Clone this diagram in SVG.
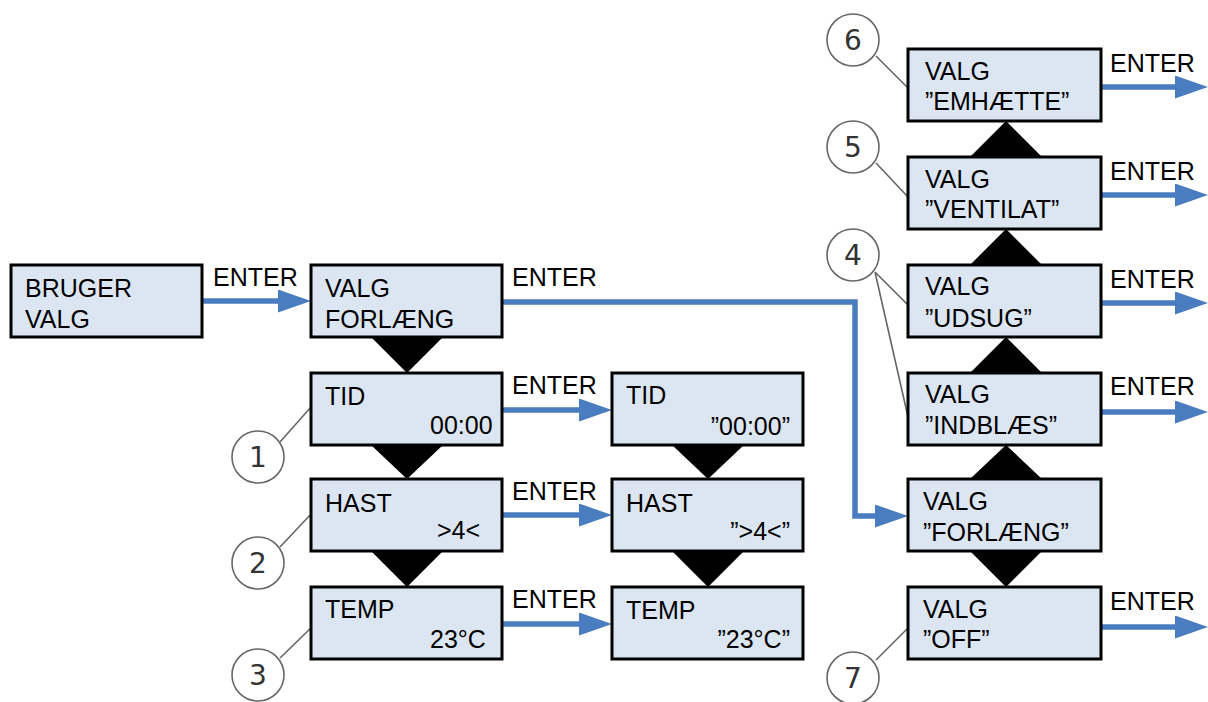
<svg xmlns="http://www.w3.org/2000/svg" width="1208" height="702" viewBox="0 0 1208 702">
<style>
.box{fill:#dce6f2;stroke:#000;stroke-width:3}
.t{font-family:"Liberation Sans",Arial,sans-serif;font-size:25px;fill:#000}
.e{text-anchor:end}
.tri{fill:#000}
.conn{fill:none;stroke:#4a7cc0;stroke-width:5.5}
.lead{fill:none;stroke:#666;stroke-width:1.6}
.circ{fill:#fff;stroke:#666;stroke-width:1.6}
.num{font-family:"DejaVu Sans","Liberation Sans",sans-serif;font-size:28px;fill:#333;text-anchor:middle}
</style>
<defs>
<marker id="ah" markerUnits="userSpaceOnUse" viewBox="0 0 33 23" markerWidth="33" markerHeight="23" refX="1" refY="11.5" orient="auto">
<path d="M0,0 L33,11.5 L0,23 z" fill="#4a7cc0"/>
</marker>
</defs>
<rect width="1208" height="702" fill="#fff"/>

<g id="triangles">
<polygon class="tri" points="371,337 443,337 407,373"/>
<polygon class="tri" points="371,445 443,445 407,479"/>
<polygon class="tri" points="371,551 443,551 407,587"/>
<polygon class="tri" points="672,445 744,445 708,479"/>
<polygon class="tri" points="672,551 744,551 708,587"/>
<polygon class="tri" points="970,157 1042,157 1006,121"/>
<polygon class="tri" points="970,265 1042,265 1006,229"/>
<polygon class="tri" points="970,373 1042,373 1006,337"/>
<polygon class="tri" points="970,479 1042,479 1006,445"/>
<polygon class="tri" points="970,551 1042,551 1006,587"/>
</g>

<g id="connectors">
<path class="conn" d="M202,301 H279" marker-end="url(#ah)"/>
<path class="conn" d="M502,302 H855 V516 H876" marker-end="url(#ah)"/>
<path class="conn" d="M502,410 H580" marker-end="url(#ah)"/>
<path class="conn" d="M502,515 H580" marker-end="url(#ah)"/>
<path class="conn" d="M502,624 H580" marker-end="url(#ah)"/>
<path class="conn" d="M1101,87 H1176" marker-end="url(#ah)"/>
<path class="conn" d="M1101,195 H1176" marker-end="url(#ah)"/>
<path class="conn" d="M1101,303 H1176" marker-end="url(#ah)"/>
<path class="conn" d="M1101,412 H1176" marker-end="url(#ah)"/>
<path class="conn" d="M1101,627 H1176" marker-end="url(#ah)"/>
<text class="t" x="213" y="286">ENTER</text>
<text class="t" x="512" y="286">ENTER</text>
<text class="t" x="512" y="394">ENTER</text>
<text class="t" x="512" y="500">ENTER</text>
<text class="t" x="512" y="608">ENTER</text>
<text class="t" x="1110" y="72">ENTER</text>
<text class="t" x="1110" y="180">ENTER</text>
<text class="t" x="1110" y="288">ENTER</text>
<text class="t" x="1110" y="395">ENTER</text>
<text class="t" x="1110" y="610">ENTER</text>
</g>

<g id="callouts">
<path class="lead" d="M280,442 L311,407 M280,547 L312,513 M280,658 L312,627 M876,56 L908,88 M876,163 L908,197 M875,272 L908,305 M875,272 L908,417 M876,660 L908,628"/>
<g id="c1"><circle class="circ" cx="258" cy="457" r="26"/><text class="num" x="258" y="467">1</text></g>
<g id="c2"><circle class="circ" cx="258" cy="563" r="26"/><text class="num" x="258" y="573">2</text></g>
<g id="c3"><circle class="circ" cx="258" cy="675" r="26"/><text class="num" x="258" y="685">3</text></g>
<g id="c6"><circle class="circ" cx="853" cy="40" r="26"/><text class="num" x="853" y="50">6</text></g>
<g id="c5"><circle class="circ" cx="853" cy="147" r="26"/><text class="num" x="853" y="157">5</text></g>
<g id="c4"><circle class="circ" cx="853" cy="255" r="26"/><text class="num" x="853" y="265">4</text></g>
<g id="c7"><circle class="circ" cx="853" cy="678" r="26"/><text class="num" x="853" y="688">7</text></g>
</g>

<g id="bruger"><rect class="box" x="11" y="265" width="191" height="72"/><text class="t" x="25" y="297">BRUGER</text><text class="t" x="25" y="328">VALG</text></g>
<g id="forlaeng"><rect class="box" x="311" y="265" width="191" height="72"/><text class="t" x="325" y="297">VALG</text><text class="t" x="325" y="328">FORLÆNG</text></g>
<g id="tid"><rect class="box" x="311" y="373" width="191" height="72"/><text class="t" x="325" y="405">TID</text><text class="t" x="430" y="434">00:00</text></g>
<g id="hast"><rect class="box" x="311" y="479" width="191" height="72"/><text class="t" x="325" y="512">HAST</text><text class="t" x="437" y="539">&gt;4&lt;</text></g>
<g id="temp"><rect class="box" x="311" y="587" width="191" height="72"/><text class="t" x="325" y="618">TEMP</text><text class="t" x="430" y="648">23°C</text></g>

<g id="tid2"><rect class="box" x="612" y="373" width="191" height="72"/><text class="t" x="626" y="404">TID</text><text class="t e" x="790" y="435">”00:00”</text></g>
<g id="hast2"><rect class="box" x="612" y="479" width="191" height="72"/><text class="t" x="626" y="512">HAST</text><text class="t e" x="790" y="540">”&gt;4&lt;”</text></g>
<g id="temp2"><rect class="box" x="612" y="587" width="191" height="72"/><text class="t" x="626" y="619">TEMP</text><text class="t e" x="790" y="648">”23°C”</text></g>

<g id="emhaette"><rect class="box" x="908" y="49" width="193" height="72"/><text class="t" x="925" y="80">VALG</text><text class="t" x="925" y="110">”EMHÆTTE”</text></g>
<g id="ventilat"><rect class="box" x="908" y="157" width="193" height="72"/><text class="t" x="925" y="188">VALG</text><text class="t" x="925" y="218">”VENTILAT”</text></g>
<g id="udsug"><rect class="box" x="908" y="265" width="193" height="72"/><text class="t" x="925" y="295">VALG</text><text class="t" x="925" y="327">”UDSUG”</text></g>
<g id="indblaes"><rect class="box" x="908" y="373" width="193" height="72"/><text class="t" x="925" y="403">VALG</text><text class="t" x="925" y="434">”INDBLÆS”</text></g>
<g id="forlaeng2"><rect class="box" x="908" y="479" width="193" height="72"/><text class="t" x="923" y="510">VALG</text><text class="t" x="923" y="541">”FORLÆNG”</text></g>
<g id="off"><rect class="box" x="908" y="587" width="193" height="72"/><text class="t" x="923" y="618">VALG</text><text class="t" x="923" y="648">”OFF”</text></g>
</svg>
